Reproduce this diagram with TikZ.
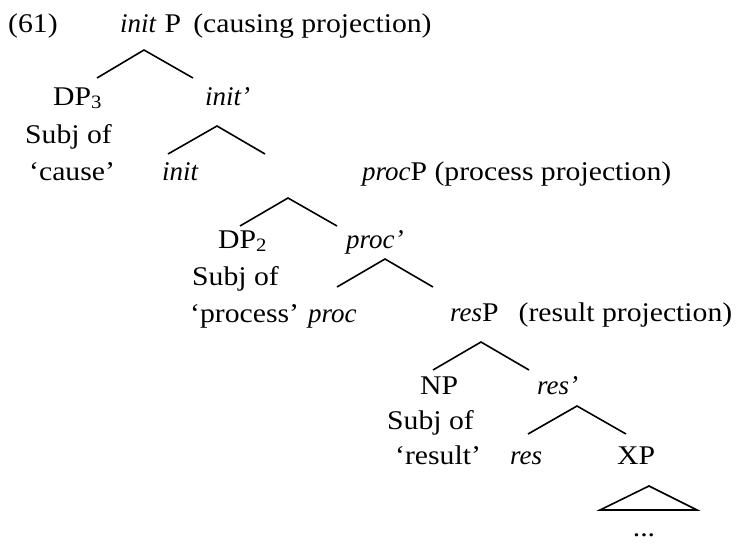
\documentclass[tikz,border=0pt]{standalone}
\usepackage{fontspec}
\setmainfont{Liberation Serif}[UprightFeatures={FakeStretch=1.1}]
\begin{document}
\begin{tikzpicture}[x=1pt,y=-1pt,
  lbl/.style={anchor=base west,inner sep=0pt,font=\fontsize{27}{32}\selectfont},
  branch/.style={line width=1.6pt,line join=miter}]
\useasboundingbox (0,0) rectangle (736,544);
% labels
\node[lbl] (ex) at (8,32) {(61)};
\node[lbl] (initP) at (120,32) {\textit{init}\hspace{8pt}P\hspace{12pt}(causing projection)};
\node[lbl] (dp3) at (53,105) {DP\textsubscript{3}};
\node[lbl] (initbar) at (205,105) {\textit{init’}};
\node[lbl] (subj1) at (25,143) {Subj of};
\node[lbl] (cause) at (29,180) {‘cause’};
\node[lbl] (init) at (162,180) {\textit{init}};
\node[lbl] (procP) at (362,180) {\textit{proc}P (process projection)};
\node[lbl] (dp2) at (218,248) {DP\textsubscript{2}};
\node[lbl] (procbar) at (346,248) {\textit{proc’}};
\node[lbl] (subj2) at (192,285) {Subj of};
\node[lbl] (process) at (190,322) {‘process’};
\node[lbl] (proc) at (308,322) {\textit{proc}};
\node[lbl] (resP) at (450,321) {\textit{res}P\hspace{20pt}(result projection)};
\node[lbl] (np) at (420,394) {NP};
\node[lbl] (resbar) at (537,394) {\textit{res’}};
\node[lbl] (subj3) at (387,429) {Subj of};
\node[lbl] (result) at (395,464) {‘result’};
\node[lbl] (res) at (510,464) {\textit{res}};
\node[lbl] (xp) at (617,464) {XP};
\node[lbl,anchor=base] (dots) at (644,536) {...};
% branch points
\coordinate (a1) at (144,50);  \coordinate (l1) at (97,78);   \coordinate (r1) at (193,78);
\coordinate (a2) at (217,126); \coordinate (l2) at (168,154); \coordinate (r2) at (265,154);
\coordinate (a3) at (288,198); \coordinate (l3) at (240,226); \coordinate (r3) at (337,226);
\coordinate (a4) at (385,259); \coordinate (l4) at (337,287); \coordinate (r4) at (433,287);
\coordinate (a5) at (481,342); \coordinate (l5) at (433,370); \coordinate (r5) at (529,370);
\coordinate (a6) at (577,406); \coordinate (l6) at (528,434); \coordinate (r6) at (626,434);
\coordinate (t0) at (649,486); \coordinate (tl) at (600,510); \coordinate (tr) at (697,510);
\draw[branch] (l1) -- (a1) -- (r1);
\draw[branch] (l2) -- (a2) -- (r2);
\draw[branch] (l3) -- (a3) -- (r3);
\draw[branch] (l4) -- (a4) -- (r4);
\draw[branch] (l5) -- (a5) -- (r5);
\draw[branch] (l6) -- (a6) -- (r6);
\draw[branch] (t0) -- (tl) -- (tr) -- cycle;
\end{tikzpicture}
\end{document}
